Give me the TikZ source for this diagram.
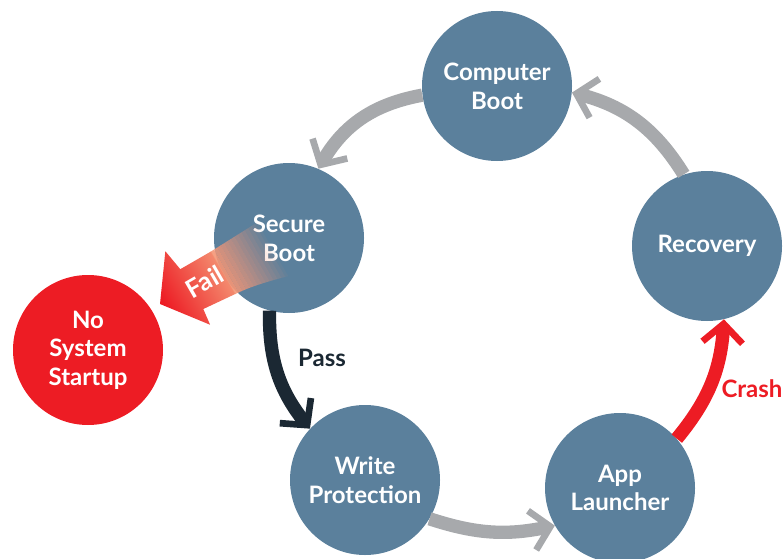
\documentclass[tikz,border=0pt]{standalone}
\usepackage{fontspec}
\setmainfont{Lato}
\usetikzlibrary{arrows.meta}

\definecolor{stageblue}{RGB}{91,128,156}
\definecolor{loopgray}{RGB}{167,169,172}
\definecolor{passdark}{RGB}{27,40,51}
\definecolor{crashred}{RGB}{237,28,36}
\definecolor{failpink}{RGB}{244,150,118}

\begin{document}
\begin{tikzpicture}[x=0.75pt,y=0.75pt,
  stage/.style={circle,fill=stageblue,minimum size=112.5pt,inner sep=0pt,
    align=center,text=white,font=\bfseries\fontsize{18}{21.5}\selectfont},
  flow/.style={line width=10pt,-{Straight Barb[length=14pt,width=30pt,line width=5pt]}},
  lbl/.style={font=\bfseries\fontsize{18}{21.5}\selectfont}]
  \useasboundingbox (0,0) rectangle (784,558);
  \node[stage] (boot) at (497,472) {Computer\\Boot};
  \node[stage] (secure) at (289,320) {Secure\\Boot};
  \node[stage] (recovery) at (707,312) {Recovery};
  \node[stage] (write) at (365,78) {Write\\Protection};
  \node[stage] (launcher) at (620,70) {App\\Launcher};
  \node[stage,fill=crashred] (nostart) at (88,208) {No\\System\\Startup};

  \draw[flow,loopgray] (boot.187) to[bend right=25] (secure.67);
  \draw[flow,loopgray] (recovery.108) to[bend right=22] (boot.-5);
  \draw[flow,loopgray] (write.-31) to[bend right=15] (launcher.210);
  \draw[flow,passdark] (secure.255) to[bend right=20] (write.137);
  \draw[flow,crashred] (launcher.41) to[bend right=18] (recovery.-77);
  \node[lbl,text=passdark] (pass) at (322,200) {Pass};
  \node[lbl,text=crashred] (crash) at (752,169) {Crash};

  % fail arrow: solid head, tail fading out over the circle
  \begin{scope}[shift={(160,254)},rotate=30]
    \shade[left color=crashred,right color=failpink,shading angle=120]
      (0,0) -- (31,43) -- (35,20) -- (70.5,20) -- (70.5,-29) -- (35,-26) -- (33,-43) -- cycle;
    \begin{scope}
      \clip (70,20) -- (125,22) -- (125,-40) .. controls (100,-33) and (85,-30) .. (70,-29) -- cycle;
      \foreach \i in {0,...,13}
        \fill[failpink,opacity={0.9-0.065*\i}] (70+4*\i,-45) rectangle (74+4*\i,30);
    \end{scope}
    \node[lbl,text=white,rotate=30,font=\bfseries\fontsize{19}{22}\selectfont] (fail) at (50,-3) {Fail};
  \end{scope}
\end{tikzpicture}
\end{document}
